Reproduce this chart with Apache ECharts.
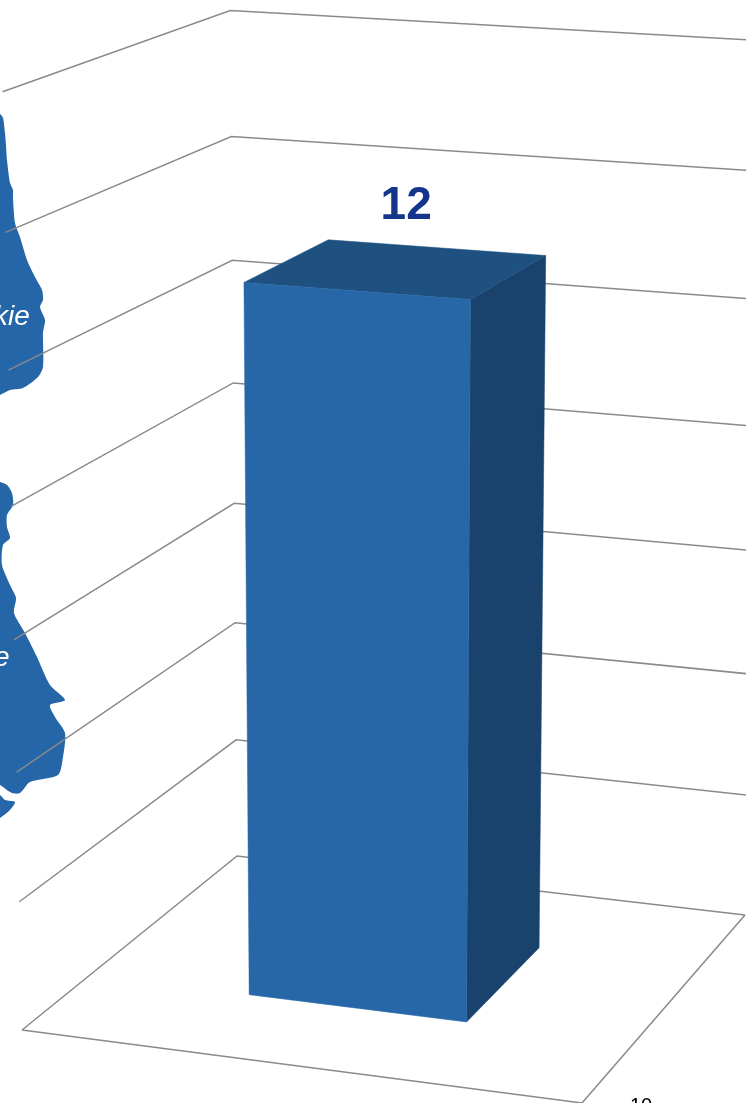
<!DOCTYPE html>
<html>
<head>
<meta charset="utf-8">
<style>html,body{margin:0;padding:0;background:#fff;overflow:hidden}#c{width:746px;height:1103px}</style>
<script src="https://cdn.jsdelivr.net/npm/echarts@6/dist/echarts.min.js"></script>
</head>
<body>
<div id="c"></div>
<script>
// ---- data ----
const categories = ['10'];
const barValues = [12];
const tickValues = [0, 2.19, 4.37, 6.56, 8.74, 10.93, 13.11, 15.3];
const axisMax = 15.3;
const regionLabels = ['kie', 'e'];

// ---- scene: perspective camera of the 3D plot ----
const W = 746, H = 1103;
const cam = { a: 537.61, b: 242.19, c: 22, d: 30.57, e: -75.81, f: 1030,
              g: -0.03847, h: 0.11471, ax: -19.5, ay: -943, az: -0.052 };
const barSpan = 0.4;           // share of the category band
const barDepth = [0.295, 0.70];

function project(u, w, t) {
  const den = cam.g * u + cam.h * w + 1 + cam.az * t;
  return [(cam.a * u + cam.b * w + cam.c + cam.ax * t) / den,
          (cam.d * u + cam.e * w + cam.f + cam.ay * t) / den];
}
// normalised height of a value, through the (hidden) value axis
function heightOf(api, v) { return (H - api.coord([0, v])[1]) / H; }

const LINE = '#8a8a8a';

function renderGrid(params, api) {
  const t = heightOf(api, api.value(0));
  const children = [{
    type: 'polyline',
    shape: { points: [project(0, 0, t), project(0, 1, t), project(1, 1, t)] },
    style: { stroke: LINE, lineWidth: 1.5, fill: null }
  }];
  if (api.value(0) === 0) {
    children.push({
      type: 'polyline',
      shape: { points: [project(0, 0, 0), project(1, 0, 0), project(1, 1, 0)] },
      style: { stroke: LINE, lineWidth: 1.5, fill: null }
    });
  }
  return { type: 'group', children };
}

function renderBar(params, api) {
  const v = api.value(1);
  const t = heightOf(api, v);
  const band = api.size([1, 0])[0];
  const centre = api.coord([api.value(0), 0])[0] / W;
  const half = (band / W) * barSpan / 2;
  const u0 = centre - half, u1 = centre + half;
  const w0 = barDepth[0], w1 = barDepth[1];
  const face = (pts, color) => ({
    type: 'polygon', shape: { points: pts },
    style: { fill: color, stroke: color, lineWidth: 0.5 }
  });
  const labelAt = project((u0 + u1) / 2, (w0 + w1) / 2, t);
  return { type: 'group', children: [
    face([project(u1, w0, 0), project(u1, w1, 0), project(u1, w1, t), project(u1, w0, t)], '#19436c'),
    face([project(u0, w0, t), project(u1, w0, t), project(u1, w1, t), project(u0, w1, t)], '#1e5080'),
    face([project(u0, w0, 0), project(u1, w0, 0), project(u1, w0, t), project(u0, w0, t)], '#2767a8'),
    { type: 'text', style: {
        text: String(v), x: labelAt[0] + 9, y: labelAt[1] - 62,
        align: 'center', verticalAlign: 'middle',
        font: 'bold 46px "Liberation Sans"', fill: '#15358d' } }
  ]};
}

// decorative map shapes behind the plot, left edge
const blobA = [[-6,114],[0,114],[3,118],[5,133],[6,145],[7,160],[10,183],[13,190],[13,198],[15,223],[20,237],[27,260],[35,277],[42,290],[43,300],[40,307],[45,320],[43,333],[43,367],[38,377],[23,388],[10,390],[0,395],[-6,397]];
const blobB = [[-6,481],[0,482],[7,485],[12,493],[13,505],[7,515],[7,527],[10,538],[3,545],[2,565],[10,585],[16,598],[14,613],[25,633],[37,657],[50,685],[65,700],[50,705],[55,717],[65,733],[63,757],[58,775],[30,782],[20,793],[12,793],[0,785],[-6,782]];
const blobC = [[-6,793],[0,795],[5,800],[15,802],[10,810],[0,818],[-6,821]];
const blob = pts => ({ type: 'polygon', z: 1, shape: { points: pts, smooth: 0.25 }, style: { fill: '#2566a8' } });

const chart = echarts.init(document.getElementById('c'), null, { renderer: 'canvas', width: W, height: H });
chart.setOption({
  animation: false,
  backgroundColor: '#ffffff',
  grid: { left: 0, top: 0, width: W, height: H, containLabel: false },
  xAxis: { type: 'category', data: categories, show: false },
  yAxis: { type: 'value', min: 0, max: axisMax, show: false },
  graphic: [
    blob(blobA), blob(blobB), blob(blobC),
    { type: 'text', z: 5, x: -6, y: 303, style: { text: regionLabels[0], font: 'italic 28px "Liberation Sans"', fill: '#ffffff' } },
    { type: 'text', z: 5, x: -6, y: 644, style: { text: regionLabels[1], font: 'italic 28px "Liberation Sans"', fill: '#ffffff' } },
    { type: 'text', z: 5, x: 630, y: 1096, style: { text: categories[0], font: '20px "Liberation Sans"', fill: '#000000' } }
  ],
  series: [
    { type: 'custom', z: 2, silent: true, clip: false, encode: { y: 0 },
      data: tickValues.map(v => [v]), renderItem: renderGrid },
    { type: 'custom', z: 3, silent: true, clip: false, encode: { x: 0, y: 1 },
      data: barValues.map((v, i) => [i, v]), renderItem: renderBar }
  ]
});
</script>
</body>
</html>
